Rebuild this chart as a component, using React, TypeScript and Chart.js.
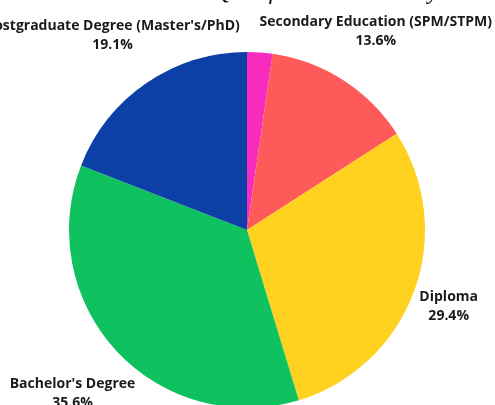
import React, { useEffect, useRef } from "react";
import { Chart, registerables } from "chart.js";

Chart.register(...registerables);

const TITLE = "Education Qualification Summary";
const categories = [
  "Others",
  "Secondary Education (SPM/STPM)",
  "Diploma",
  "Bachelor's Degree",
  "Postgraduate Degree (Master's/PhD)",
];
const shares = [2.3, 13.6, 29.4, 35.6, 19.1];
const colors = ["#F72CBE", "#FF5A5A", "#FFD21F", "#10C160", "#0C40A6"];

const outsideLabels = {
  id: "outsideLabels",
  afterDatasetsDraw(chart: any) {
    const ctx = chart.ctx;
    const meta = chart.getDatasetMeta(0);
    const total = shares.reduce((a, b) => a + b, 0);
    ctx.save();
    ctx.font = "bold 14px 'Open Sans', sans-serif";
    ctx.fillStyle = "#1a1a1a";
    ctx.textAlign = "center";
    ctx.textBaseline = "middle";
    const lh = 19;
    meta.data.forEach((arc: any, i: number) => {
      const pct = (shares[i] / total) * 100;
      if (pct < 3) return;
      const { x, y, startAngle, endAngle, outerRadius } = arc.getProps(
        ["x", "y", "startAngle", "endAngle", "outerRadius"],
        true
      );
      const a = (startAngle + endAngle) / 2;
      const l1 = categories[i];
      const l2 = shares[i].toFixed(1) + "%";
      const w = Math.max(ctx.measureText(l1).width, ctx.measureText(l2).width);
      let R = outerRadius + 60;
      const limit = chart.width - 17;
      let cx = x + R * Math.cos(a);
      if (Math.cos(a) > 0.8 && cx + w / 2 > limit) {
        R = (limit - w / 2 - x) / Math.cos(a);
        cx = x + R * Math.cos(a);
      }
      const cy = y + R * Math.sin(a) + 2;
      ctx.fillText(l1, cx, cy - lh / 2);
      ctx.fillText(l2, cx, cy + lh / 2);
    });
    ctx.restore();
  },
};

const titleDraw = {
  id: "titleDraw",
  afterDraw(chart: any) {
    const ctx = chart.ctx;
    ctx.save();
    ctx.font = "italic 24px 'Liberation Serif', serif";
    ctx.fillStyle = "#111";
    ctx.textAlign = "left";
    ctx.textBaseline = "alphabetic";
    const words = TITLE.split(" ");
    const first = words[0] + " ";
    const startX = 214 - ctx.measureText(first).width;
    ctx.fillText(TITLE, startX, 39);
    ctx.restore();
  },
};

export default function App() {
  const ref = useRef<HTMLCanvasElement>(null);
  useEffect(() => {
    if (!ref.current) return;
    const chart = new Chart(ref.current, {
      type: "pie",
      data: {
        labels: categories,
        datasets: [
          {
            data: shares,
            backgroundColor: colors,
            borderWidth: 0,
          },
        ],
      },
      options: {
        animation: false,
        responsive: true,
        maintainAspectRatio: false,
        layout: { padding: { top: 92, bottom: 12, left: 69, right: 70 } },
        plugins: {
          legend: { display: false },
          tooltip: { enabled: false },
          title: { display: false },
        },
      },
      plugins: [outsideLabels, titleDraw],
    });
    return () => chart.destroy();
  }, []);
  return (
    <div
      style={{
        position: "absolute",
        top: 0,
        left: 0,
        width: 495,
        height: 405,
        overflow: "hidden",
        background: "#fff",
      }}
    >
      <div style={{ position: "absolute", top: -40, left: 0, width: 495, height: 460 }}>
        <canvas ref={ref} />
      </div>
    </div>
  );
}
